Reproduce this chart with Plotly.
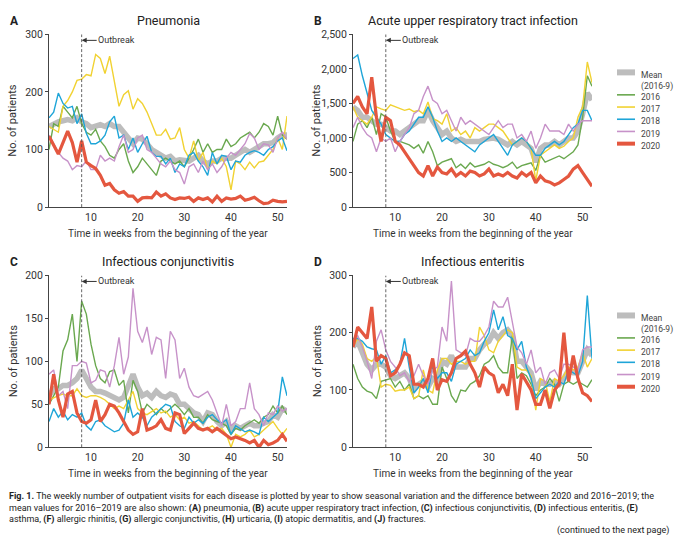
import plotly.graph_objects as go

weeks = list(range(1, 53))

# Panel A: Pneumonia
a_mean = [140,145,148,150,152,150,155,148,145,138,140,143,140,145,140,140,130,120,110,120,118,110,100,95,90,85,88,80,82,80,80,85,90,80,75,80,80,85,85,85,90,95,100,95,100,105,110,110,112,120,125,125]
a_2016 = [100,145,140,175,165,155,175,145,130,125,135,115,105,90,85,100,110,80,60,70,85,75,65,55,80,85,80,75,80,70,85,100,118,95,110,95,100,100,118,105,110,120,125,130,120,130,145,140,125,158,125,118]
a_2017 = [140,135,130,175,185,200,220,222,230,228,265,258,232,262,215,175,195,202,170,188,180,165,145,125,125,135,118,120,138,100,85,115,80,95,65,80,75,85,70,30,80,75,65,78,68,78,80,90,100,120,100,158]
a_2018 = [155,165,198,180,172,175,145,162,128,110,110,115,125,148,158,120,125,100,120,95,110,123,95,88,88,75,85,60,75,70,90,95,80,70,55,95,75,90,88,65,80,78,90,95,98,95,90,100,105,115,120,98]
a_2019 = [125,110,95,85,80,65,72,70,80,65,65,90,80,85,80,105,125,95,100,120,125,100,95,85,75,70,80,65,60,40,70,75,60,80,65,75,60,70,85,95,90,100,110,128,120,100,110,108,95,120,130,118]
a_2020 = [123,108,92,112,132,112,78,115,78,72,67,55,38,41,30,24,27,19,19,10,16,17,16,26,19,23,16,13,16,15,17,10,16,13,16,9,19,10,16,14,15,19,12,14,17,11,6,7,12,10,9,10]

# Panel B: Acute upper respiratory tract infection
b_mean = [1450,1400,1300,1300,1250,1200,1200,1150,1100,1100,1050,1100,1150,1200,1250,1250,1400,1250,1150,1050,1100,1000,950,980,950,950,950,950,980,1000,1000,980,950,900,950,900,950,900,850,650,850,900,900,950,900,950,1000,1000,1100,1350,1650,1550]
b_2016 = [950,1200,1250,1150,1300,1050,1350,1300,1100,950,950,920,900,850,900,780,950,800,600,650,680,700,570,620,560,640,580,600,620,660,620,600,570,600,650,560,600,620,640,530,750,650,680,700,740,700,750,800,900,1300,1900,1750]
b_2017 = [1450,1300,1250,1200,1300,1450,1420,1400,1480,1450,1420,1400,1420,1380,1400,1350,1520,1280,1250,1200,1350,1100,1150,1050,1100,1000,1150,1100,1150,1200,1200,1150,1100,1000,900,950,1000,950,850,380,750,800,850,900,850,880,950,1000,1300,1450,2100,1800]
b_2018 = [2150,2200,1900,1650,1400,1300,1200,1050,1000,950,950,1050,1100,1200,1300,1300,1450,1300,1100,950,1000,950,1000,950,900,850,800,900,950,1000,1050,950,850,750,900,950,1000,950,850,750,750,850,900,950,900,950,1050,1150,1200,1400,1400,1250]
b_2019 = [1150,1300,1150,1050,1000,800,1000,950,1000,800,950,1050,1150,1350,1400,1600,1750,1550,1500,1350,1400,1250,1100,1300,1200,1250,1200,1150,1100,1050,1150,1250,1150,1200,1200,1000,1050,950,1100,850,1000,1200,1100,1100,1100,1050,1200,1100,1200,1250,1250,1250]
b_2020 = [1500,1600,1450,1350,1880,1300,950,1300,1250,950,900,800,700,600,500,450,600,450,580,500,480,550,450,500,450,520,500,450,480,550,450,480,450,500,450,420,500,450,500,350,450,380,360,320,350,400,450,550,600,500,400,300]

# Panel C: Infectious conjunctivitis
c_mean = [60,68,68,72,72,75,80,90,80,70,65,65,63,60,58,55,58,70,85,70,60,63,58,65,60,58,62,60,50,50,45,40,38,30,40,38,30,25,30,20,25,22,25,28,25,25,28,30,38,35,45,42]
c_2016 = [50,60,70,112,125,155,100,170,155,120,95,80,75,88,90,72,78,40,78,65,40,50,45,38,45,40,45,50,45,38,45,35,35,28,38,32,30,28,25,15,22,20,25,28,32,28,35,38,48,40,48,38]
c_2017 = [55,58,60,62,60,60,68,60,58,60,60,58,55,50,45,48,45,55,65,45,40,38,42,45,40,42,35,38,32,35,28,30,25,20,22,25,20,22,15,0,15,12,15,20,12,15,20,25,30,22,15,22]
c_2018 = [30,45,35,42,32,38,35,40,25,20,30,32,25,22,18,20,28,55,35,40,35,25,35,40,45,50,48,30,25,22,35,28,32,28,35,38,32,28,32,15,25,22,18,20,18,15,35,30,35,40,82,60]
c_2019 = [85,90,60,65,45,95,95,100,98,75,78,90,88,70,95,128,85,105,185,135,122,140,108,128,125,80,135,125,80,92,70,60,58,62,65,55,40,25,50,25,30,45,45,75,45,38,25,40,38,48,42,45]
c_2020 = [50,85,55,35,62,65,40,30,28,32,55,30,38,50,48,40,30,20,15,18,45,20,22,25,32,22,20,40,38,16,22,28,22,20,22,18,22,18,15,10,12,10,8,5,8,0,8,3,5,8,15,7]

# Panel D: Infectious enteritis
d_mean = [175,185,165,145,135,145,145,140,125,120,125,130,120,100,110,115,105,120,115,150,145,160,140,140,140,155,155,170,180,185,200,190,200,205,195,150,150,140,130,100,115,110,110,115,110,120,135,130,130,150,170,160]
d_2016 = [145,120,105,98,95,85,115,118,120,105,115,100,110,85,90,85,90,75,75,140,120,90,78,100,98,110,115,125,145,150,160,140,130,130,195,120,130,125,110,90,100,105,120,110,80,110,115,110,115,110,105,118]
d_2017 = [175,190,180,155,150,158,105,110,108,98,100,100,105,85,90,135,100,95,135,155,155,145,150,150,145,150,150,210,195,170,165,185,195,205,200,140,135,135,125,65,120,115,80,120,115,125,140,135,140,165,140,155]
d_2018 = [190,190,185,175,172,170,145,160,130,135,145,190,140,95,105,120,95,140,120,130,130,115,145,150,155,170,160,165,185,200,240,205,228,195,190,170,185,140,120,85,95,105,110,105,115,110,135,130,125,150,265,155]
d_2019 = [185,195,175,150,120,185,205,170,150,140,125,130,115,125,145,125,110,135,140,210,185,290,170,165,160,190,185,185,195,210,255,245,245,262,215,175,165,145,170,130,140,110,130,135,120,145,145,140,135,170,175,175]
d_2020 = [175,210,200,190,245,150,160,155,125,130,145,165,160,110,110,105,120,155,100,118,115,130,155,160,168,145,130,105,140,130,125,95,110,90,145,65,128,115,100,75,75,100,68,100,110,200,115,160,120,95,90,80]

series_names = ["Mean<br>(2016-9)", "2016", "2017", "2018", "2019", "2020"]
colors = ["#bdbdbd", "#6aa84f", "#f1d232", "#1ea5d8", "#c792c9", "#e4573f"]
widths = [5.5, 1.4, 1.4, 1.4, 1.4, 3.2]
legend_widths = [6, 1.6, 1.6, 1.6, 1.6, 4]

caption_lines = [
    "<b>Fig. 1.</b> The weekly number of outpatient visits for each disease is plotted by year to show seasonal variation and the difference between 2020 and 2016–2019; the",
    "mean values for 2016–2019 are also shown: <b>(A)</b> pneumonia, <b>(B)</b> acute upper respiratory tract infection, <b>(C)</b> infectious conjunctivitis, <b>(D)</b> infectious enteritis, <b>(E)</b>",
    "asthma, <b>(F)</b> allergic rhinitis, <b>(G)</b> allergic conjunctivitis, <b>(H)</b> urticaria, <b>(I)</b> atopic dermatitis, and <b>(J)</b> fractures.",
]
continued_note = "(continued to the next page)"

panels = [
    dict(letter="A", title="Pneumonia", data=[a_mean, a_2016, a_2017, a_2018, a_2019, a_2020],
         yrange=[0, 300], ticks=[0, 100, 200, 300], legend_top=None),
    dict(letter="B", title="Acute upper respiratory tract infection", data=[b_mean, b_2016, b_2017, b_2018, b_2019, b_2020],
         yrange=[0, 2500], ticks=[0, 500, 1000, 1500, 2000, 2500], legend_top=68),
    dict(letter="C", title="Infectious conjunctivitis", data=[c_mean, c_2016, c_2017, c_2018, c_2019, c_2020],
         yrange=[0, 200], ticks=[0, 50, 100, 150, 200], legend_top=None),
    dict(letter="D", title="Infectious enteritis", data=[d_mean, d_2016, d_2017, d_2018, d_2019, d_2020],
         yrange=[0, 300], ticks=[0, 100, 200, 300], legend_top=317),
]

W, H = 680, 547
FONT = "Roboto"
# pixel boxes: (x0, x1, ytop, ybottom)
boxes = [(49, 287, 29, 206), (353, 592, 29, 206), (49, 287, 276, 452), (353, 592, 276, 452)]

fig = go.Figure()
layout = dict(width=W, height=H, margin=dict(l=0, r=0, t=0, b=0),
              plot_bgcolor="white", paper_bgcolor="white", showlegend=False,
              font=dict(family=FONT, size=11, color="#333333"))
annotations = []
shapes = []

for i, p in enumerate(panels):
    n = i + 1
    xa = "x" if n == 1 else f"x{n}"
    ya = "y" if n == 1 else f"y{n}"
    x0, x1, yt, yb = boxes[i]
    for k, (name, col, w) in enumerate(zip(series_names, colors, widths)):
        fig.add_trace(go.Scatter(
            x=weeks, y=p["data"][k], mode="lines", name=name.replace("<br>", " "),
            line=dict(color=col, width=w), xaxis=xa, yaxis=ya,
        ))
    axis_common = dict(showline=True, linecolor="#444444", linewidth=1, showgrid=False,
                       zeroline=False, tickcolor="#444444",
                       tickfont=dict(size=10.5, color="#333333", family=FONT))
    layout["xaxis" if n == 1 else f"xaxis{n}"] = dict(
        axis_common, domain=[x0 / W, x1 / W], range=[1, 52], tickvals=[10, 20, 30, 40, 50],
        ticks="", anchor=ya)
    layout["yaxis" if n == 1 else f"yaxis{n}"] = dict(
        axis_common, domain=[1 - yb / H, 1 - yt / H], range=p["yrange"], tickvals=p["ticks"],
        ticks="outside", ticklen=3, tickformat=",", anchor=xa)
    ymax = p["yrange"][1]
    shapes.append(dict(type="line", xref=xa, yref=ya, x0=8, x1=8, y0=0, y1=ymax,
                       line=dict(color="#555555", width=0.9, dash="3px,2px")))
    annotations.append(dict(xref=xa, yref=ya, x=8, y=ymax * 0.965, text="Outbreak",
                            showarrow=True, arrowhead=2, arrowsize=1, arrowwidth=1, arrowcolor="#333333",
                            ax=35, ay=0, font=dict(size=9, color="#333333", family=FONT)))
    cx = (x0 + x1) / 2 / W
    annotations.append(dict(xref="paper", yref="paper", x=cx, y=1 - (yt - 14) / H, text=p["title"],
                            showarrow=False, font=dict(size=12.5, color="#222222", family=FONT),
                            xanchor="center", yanchor="middle"))
    annotations.append(dict(xref="paper", yref="paper", x=(x0 - 35) / W, y=1 - (yt - 14) / H,
                            text=f"<b>{p['letter']}</b>", showarrow=False,
                            font=dict(size=12, color="#222222", family=FONT),
                            xanchor="center", yanchor="middle"))
    annotations.append(dict(xref="paper", yref="paper", x=(x0 - 36) / W, y=1 - (yt + yb) / 2 / H,
                            text="No. of patients", textangle=-90, showarrow=False,
                            font=dict(size=11, color="#333333", family=FONT),
                            xanchor="center", yanchor="middle"))
    annotations.append(dict(xref="paper", yref="paper", x=cx, y=1 - (yb + 27) / H,
                            text="Time in weeks from the beginning of the year", showarrow=False,
                            font=dict(size=10, color="#333333", family=FONT),
                            xanchor="center", yanchor="middle"))
    # compact legend beside the panel
    if p["legend_top"] is not None:
        top = p["legend_top"]
        for k, (name, col, lw) in enumerate(zip(series_names, colors, legend_widths)):
            yy = top if k == 0 else top + 23 + (k - 1) * 12.5
            shapes.append(dict(type="line", xref="paper", yref="paper",
                               x0=617 / W, x1=635 / W, y0=1 - yy / H, y1=1 - yy / H,
                               line=dict(color=col, width=lw)))
            annotations.append(dict(xref="paper", yref="paper", x=639 / W, y=1 - (yy - 5) / H,
                                    text=name, showarrow=False, xanchor="left", yanchor="top",
                                    align="left", font=dict(size=8.5, color="#444444", family=FONT)))

annotations.append(dict(xref="paper", yref="paper", x=7 / W, y=1 - 495 / H, text="<br>".join(caption_lines),
                        align="left", showarrow=False, xanchor="left", yanchor="top",
                        font=dict(size=9.0, color="#222222", family=FONT)))
annotations.append(dict(xref="paper", yref="paper", x=671 / W, y=1 - 537 / H,
                        text=continued_note, showarrow=False, xanchor="right", yanchor="middle",
                        font=dict(size=9.0, color="#222222", family=FONT)))

layout["annotations"] = annotations
layout["shapes"] = shapes
fig.update_layout(**layout)
fig.write_html("out.html", config={"displayModeBar": False},
               post_script="document.body.style.margin='0';")
